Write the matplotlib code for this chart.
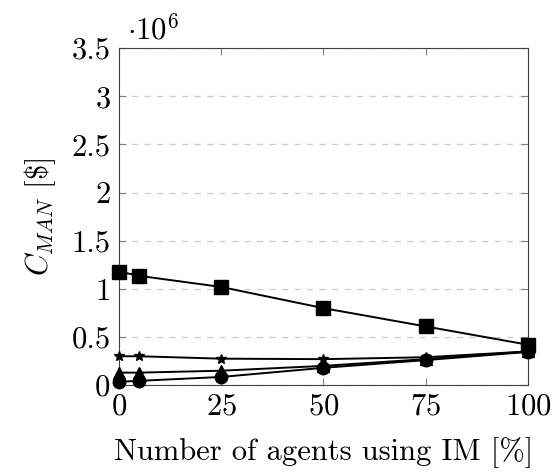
import matplotlib
matplotlib.use('Agg')
import matplotlib.pyplot as plt

plt.rcParams['font.family'] = 'cmr10'
plt.rcParams['mathtext.fontset'] = 'cm'
plt.rcParams['axes.formatter.use_mathtext'] = True

agents = [0, 5, 25, 50, 75, 100]
c_square = [1.18, 1.135, 1.02, 0.80, 0.61, 0.42]
c_star = [0.30, 0.30, 0.275, 0.27, 0.29, 0.35]
c_triangle = [0.13, 0.13, 0.15, 0.20, 0.27, 0.35]
c_circle = [0.035, 0.045, 0.085, 0.18, 0.26, 0.345]

fig = plt.figure(figsize=(5.58, 4.72), dpi=100)
ax = fig.add_axes([0.213, 0.184, 0.733, 0.714])

ax.plot(agents, c_square, color='black', marker='s', markersize=10, linewidth=1.4, clip_on=False, zorder=3)
ax.plot(agents, c_star, color='black', marker='*', markersize=7, linewidth=1.4, clip_on=False, zorder=3)
ax.plot(agents, c_triangle, color='black', marker='^', markersize=9, linewidth=1.4, clip_on=False, zorder=3)
ax.plot(agents, c_circle, color='black', marker='o', markersize=9, linewidth=1.4, clip_on=False, zorder=3)

ax.set_xlim(0, 100)
ax.set_ylim(0, 3.5)
ax.set_xticks([0, 25, 50, 75, 100])
ax.set_yticks([0, 0.5, 1, 1.5, 2, 2.5, 3, 3.5])
ax.set_yticklabels(['0', '0.5', '1', '1.5', '2', '2.5', '3', '3.5'])
ax.tick_params(direction='in', top=True, right=True, labelsize=22, color='0.5', length=5, pad=6)
ax.grid(axis='y', linestyle=(0, (5, 5)), color='0.8', linewidth=0.9)

for s in ax.spines.values():
    s.set_color('0.25')

ax.text(0.02, 1.01, r'$\cdot 10^6$', transform=ax.transAxes, fontsize=22, ha='left', va='bottom')
ax.set_xlabel('Number of agents using IM [%]', fontsize=22, labelpad=12)
ax.set_ylabel(r'$C_{MAN}$ [\$]', fontsize=22, labelpad=10)

fig.savefig('out.png', dpi=100)
